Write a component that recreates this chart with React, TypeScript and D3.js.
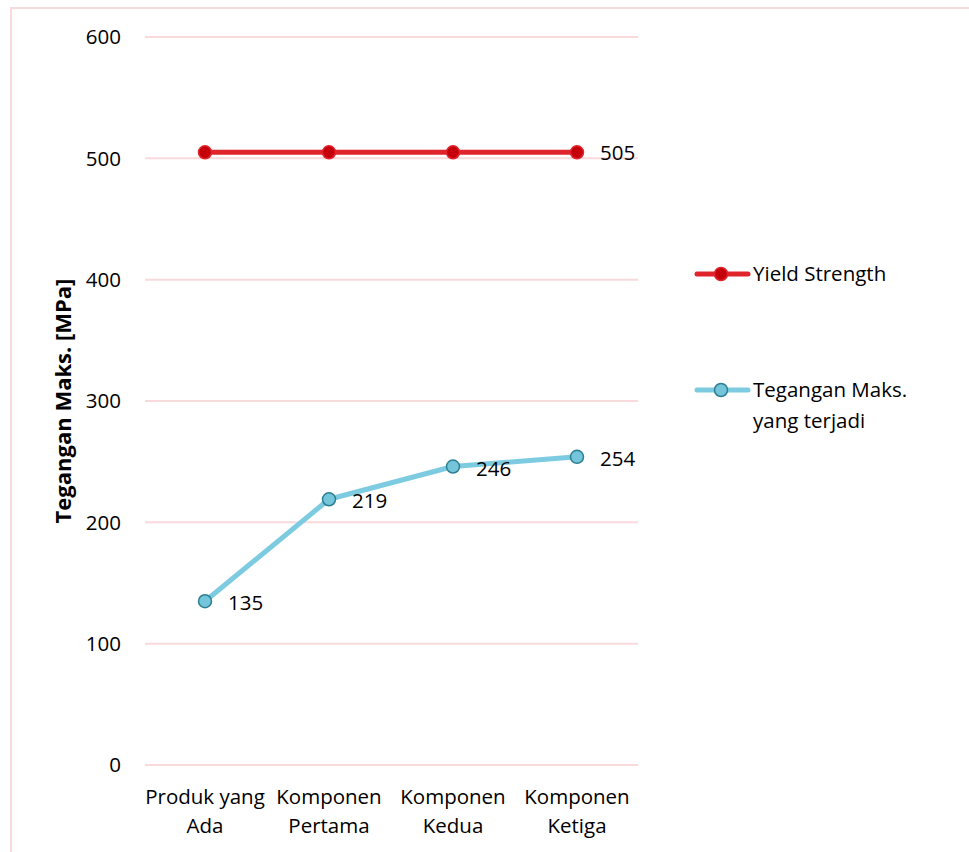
import React from "react";
import * as d3 from "d3";

const categories: string[][] = [
  ["Produk yang", "Ada"],
  ["Komponen", "Pertama"],
  ["Komponen", "Kedua"],
  ["Komponen", "Ketiga"],
];
const yieldStrength: number[] = [505, 505, 505, 505];
const maxStress: number[] = [135, 219, 246, 254];
const yTicks: number[] = [0, 100, 200, 300, 400, 500, 600];
const seriesNames: string[][] = [["Yield Strength"], ["Tegangan Maks.", "yang terjadi"]];
const yTitle = "Tegangan Maks. [MPa]";

const W = 969;
const H = 852;
const FONT = "'Open Sans', Lato, sans-serif";
const FS = 20.5;

export default function App() {
  const x = d3.scaleBand<number>().domain(d3.range(categories.length)).range([143, 639]);
  const y = d3.scaleLinear().domain([0, 600]).range([765, 37]);
  const cx = (i: number) => (x(i) as number) + x.bandwidth() / 2;
  const line = d3
    .line<number>()
    .x((_, i) => cx(i))
    .y((d) => y(d));

  const red = "#e0242c";
  const redMarker = "#c5000b";
  const blue = "#7ccbe0";
  const blueMarker = "#74c5da";
  const blueStroke = "#2c7f93";

  return (
    <svg
      width={W}
      height={H}
      style={{ position: "absolute", left: 0, top: 0, background: "#fff" }}
      fontFamily={FONT}
    >
      <rect x={11} y={8} width={W + 20} height={H + 20} fill="#fff" stroke="#f8dadc" strokeWidth={2} />

      {/* gridlines */}
      {yTicks.map((t) => (
        <line key={t} x1={145} x2={638} y1={y(t)} y2={y(t)} stroke="#f8dadc" strokeWidth={2} />
      ))}

      {/* y tick labels */}
      {yTicks.map((t) => (
        <text key={t} x={121} y={y(t)} dy="0.35em" textAnchor="end" fontSize={FS} fill="#000">
          {t}
        </text>
      ))}

      {/* y axis title */}
      <text
        transform={`translate(71,${y(300)}) rotate(-90)`}
        textAnchor="middle"
        fontSize={22}
        fontWeight="bold"
        fill="#000"
      >
        {yTitle}
      </text>

      {/* x category labels */}
      {categories.map((lines, i) => (
        <text key={i} textAnchor="middle" fontSize={FS} fill="#000">
          {lines.map((l, j) => (
            <tspan key={j} x={cx(i)} y={804 + j * 29}>
              {l}
            </tspan>
          ))}
        </text>
      ))}

      {/* yield strength series */}
      <path d={line(yieldStrength) || ""} fill="none" stroke={red} strokeWidth={5} strokeLinejoin="round" />
      {yieldStrength.map((v, i) => (
        <circle key={i} cx={cx(i)} cy={y(v)} r={6.5} fill={redMarker} stroke={red} strokeWidth={1.5} />
      ))}
      <text x={cx(3) + 23} y={y(yieldStrength[3]) + 1} dy="0.35em" fontSize={FS} fill="#000">
        {yieldStrength[3]}
      </text>

      {/* max stress series */}
      <path d={line(maxStress) || ""} fill="none" stroke={blue} strokeWidth={5} strokeLinejoin="round" />
      {maxStress.map((v, i) => (
        <circle key={i} cx={cx(i)} cy={y(v)} r={6.5} fill={blueMarker} stroke={blueStroke} strokeWidth={1.5} />
      ))}
      {maxStress.map((v, i) => (
        <text key={i} x={cx(i) + 23} y={y(v) + 2} dy="0.35em" fontSize={FS} fill="#000">
          {v}
        </text>
      ))}

      {/* legend */}
      <g>
        <line x1={697} x2={748} y1={274} y2={274} stroke={red} strokeWidth={5} strokeLinecap="round" />
        <circle cx={721} cy={274} r={6.5} fill={redMarker} stroke={red} strokeWidth={1.5} />
        <text x={753} y={274} dy="0.35em" fontSize={FS} fill="#000">
          {seriesNames[0][0]}
        </text>
        <line x1={697} x2={748} y1={390} y2={390} stroke={blue} strokeWidth={5} strokeLinecap="round" />
        <circle cx={721} cy={390} r={6.5} fill={blueMarker} stroke={blueStroke} strokeWidth={1.5} />
        <text fontSize={FS} fill="#000">
          {seriesNames[1].map((l, j) => (
            <tspan key={j} x={753} y={390 + j * 31} dy="0.35em">
              {l}
            </tspan>
          ))}
        </text>
      </g>
    </svg>
  );
}
